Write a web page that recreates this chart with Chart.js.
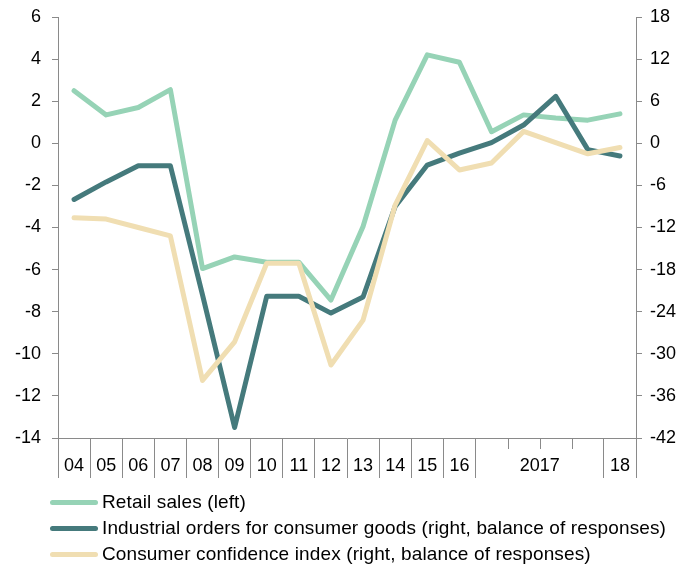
<!DOCTYPE html>
<html><head><meta charset="utf-8">
<script src="https://cdn.jsdelivr.net/npm/chart.js@4"></script>
<style>
html,body{margin:0;padding:0;background:#fff;}
#wrap{position:relative;width:682px;height:571px;}
#legend{position:absolute;left:0;top:0;width:682px;height:571px;pointer-events:none;font-family:"Liberation Sans",Arial,sans-serif;font-size:19px;letter-spacing:0.13px;color:#000;}
.item{position:absolute;left:50px;height:20px;display:flex;align-items:center;white-space:nowrap;}
.sw{width:48px;height:5px;border-radius:3px;margin-right:4px;flex:none;}
</style></head>
<body><div id="wrap"><canvas id="c" width="682" height="571"></canvas><div id="legend"></div></div>
<script>
// categories: annual 2004-2016, quarterly 2017, 2018 Q1
const categories = ['2004','2005','2006','2007','2008','2009','2010','2011','2012','2013','2014','2015','2016','2017Q1','2017Q2','2017Q3','2017Q4','2018Q1'];
const tickLabels = ['04','05','06','07','08','09','10','11','12','13','14','15','16','','','','','18'];
const groupLabel = '2017';
const groupStart = 13, groupEnd = 16;

const retailSales = [2.5, 1.35, 1.7, 2.55, -5.95, -5.4, -5.65, -5.65, -7.45, -3.95, 1.1, 4.2, 3.85, 0.55, 1.35, 1.2, 1.1, 1.4];
const industrialOrders = [-8.0, -5.5, -3.2, -3.2, -21.6, -40.5, -21.8, -21.8, -24.2, -21.9, -9.0, -3.1, -1.4, 0.1, 2.6, 6.7, -0.9, -1.8];
const consumerConfidence = [-10.6, -10.8, -12.0, -13.2, -33.8, -28.3, -17.1, -17.1, -31.6, -25.2, -8.8, 0.4, -3.8, -2.8, 1.7, 0.1, -1.5, -0.6];

const seriesNames = ['Retail sales (left)', 'Industrial orders for consumer goods (right, balance of responses)', 'Consumer confidence index (right, balance of responses)'];
const seriesColors = ['#96d3b6', '#457a7c', '#f0deb2'];

const gray = '#8a8a8a';
const font = {family: '"Liberation Sans", Arial, sans-serif', size: 18};

const groupPlugin = {
  id: 'groupTicks',
  afterDraw(chart) {
    const xs = chart.scales.x;
    const c = chart.ctx;
    c.save();
    c.strokeStyle = gray;
    c.lineWidth = 1;
    for (let i = groupStart + 1; i <= groupEnd; i++) {
      const x = Math.round((xs.getPixelForValue(i - 1) + xs.getPixelForValue(i)) / 2) + 0.5;
      c.beginPath();
      c.moveTo(x, xs.top);
      c.lineTo(x, xs.top + 11);
      c.stroke();
    }
    const cx = (xs.getPixelForValue(groupStart) + xs.getPixelForValue(groupEnd)) / 2;
    c.fillStyle = '#000';
    c.font = '18px "Liberation Sans", Arial, sans-serif';
    c.textAlign = 'center';
    c.textBaseline = 'middle';
    c.fillText(groupLabel, cx, xs.top + 28);
    c.restore();
  }
};

const mk = (i, data, axis, order) => ({
  label: seriesNames[i], data, yAxisID: axis,
  borderColor: seriesColors[i], backgroundColor: seriesColors[i],
  borderWidth: 5, pointRadius: 0, tension: 0, fill: false,
  borderJoinStyle: 'round', borderCapStyle: 'round', order
});

new Chart(document.getElementById('c'), {
  type: 'line',
  data: {
    labels: categories,
    datasets: [
      mk(0, retailSales, 'yL', 3),
      mk(1, industrialOrders, 'yR', 2),
      mk(2, consumerConfidence, 'yR', 1)
    ]
  },
  options: {
    responsive: false,
    animation: false,
    layout: {padding: {top: 17, bottom: 93, left: 0, right: 0}},
    plugins: {legend: {display: false}, tooltip: {enabled: false}},
    scales: {
      x: {
        type: 'category',
        offset: true,
        grid: {
          display: true, offset: true, drawOnChartArea: false, drawTicks: true, tickLength: 40,
          lineWidth: 1,
          color: (ctx) => (ctx.index > groupStart && ctx.index <= groupEnd) ? 'rgba(0,0,0,0)' : gray
        },
        border: {display: true, color: gray, width: 1},
        ticks: {autoSkip: false, maxRotation: 0, minRotation: 0, padding: -23, font, color: '#000',
          callback: (v, i) => tickLabels[i]},
        afterFit: (s) => { s.height = 40; s.paddingLeft = 0; s.paddingRight = 0; }
      },
      yL: {
        type: 'linear', position: 'left', min: -14, max: 6,
        ticks: {stepSize: 2, padding: 11, font, color: '#000'},
        grid: {drawOnChartArea: false, drawTicks: true, tickLength: 6, color: gray},
        border: {display: true, color: gray, width: 1},
        afterFit: (s) => { s.width = 58; s.paddingTop = 0; s.paddingBottom = 0; }
      },
      yR: {
        type: 'linear', position: 'right', min: -42, max: 18,
        ticks: {stepSize: 6, padding: 8, font, color: '#000'},
        grid: {drawOnChartArea: false, drawTicks: true, tickLength: 6, color: gray},
        border: {display: true, color: gray, width: 1},
        afterFit: (s) => { s.width = 46; s.paddingTop = 0; s.paddingBottom = 0; }
      }
    }
  },
  plugins: [groupPlugin]
});

// legend
const legendTops = [502, 528, 554];
const lg = document.getElementById('legend');
seriesNames.forEach((name, i) => {
  const d = document.createElement('div');
  d.className = 'item';
  d.style.top = (legendTops[i] - 10) + 'px';
  const sw = document.createElement('span');
  sw.className = 'sw';
  sw.style.background = seriesColors[i];
  const t = document.createElement('span');
  t.textContent = name;
  d.appendChild(sw); d.appendChild(t);
  lg.appendChild(d);
});
</script>
</body></html>
